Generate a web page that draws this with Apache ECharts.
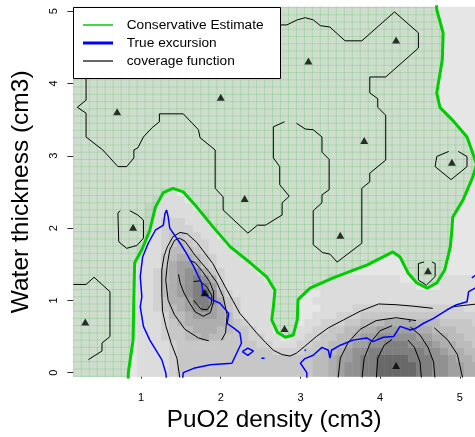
<!DOCTYPE html>
<html>
<head>
<meta charset="utf-8">
<script src="https://cdn.jsdelivr.net/npm/echarts@6/dist/echarts.min.js"></script>
<style>
  html, body { margin: 0; padding: 0; background: #fff; }
  #chart { width: 475px; height: 437px; }
</style>
</head>
<body>
<div id="chart"></div>
<script>
// ---- axes ----
const xTicks = [1, 2, 3, 4, 5];
const yTicks = [0, 1, 2, 3, 4, 5];
const xRange = [0.15, 5.19];
const yRange = [-0.06, 5.062];

// ---- coverage function on a 0.1 grid ----
// row r sits at y = r * 0.1, column i at x = 1.0 + i * 0.1
// '0'..'9' -> 0.0..0.9, 'a' -> 1.0 ; cells past the end of a row hold 1.0
const covX0 = 1.0;
const covY0 = 0.0;
const covStep = 0.1;
const covRows = [
  '9999877777' + '7777777777' + '7766543322' + '1111122334' + '455',
  '9999877777' + '7777777777' + '7766543322' + '1111122334' + '455',
  '9999877777' + '7777777777' + '7766544322' + '1111222334' + '556',
  '9999877777' + '7777777888' + '8776654332' + '2222223345' + '566',
  '9999877777' + '7777788999' + '8877665443' + '3222333455' + '667',
  '9998776656' + '67778899a9' + '9887766544' + '3333344556' + '677',
  '9998776555' + '6677899aaa' + '9988776655' + '4444455666' + '777',
  '9998765555' + '5678999aaa' + 'a998887766' + '6555566677' + '778',
  '9998665444' + '5689999aaa' + 'aa99988877' + '7777777788' + '888',
  '9987654324' + '5789999aaa' + 'aaa9999888' + '8888888888' + '899',
  '9987554223' + '5789999aaa' + 'aa99999999' + '9999999999' + '999',
  '9986543213' + '6899999aaa' + 'aaa9999999' + '9999999999' + '999',
  '9986543224' + '7999999aaa' + 'aa99999999' + '99999aaa99' + '999',
  '9986543235' + '899999aaaa' + 'aaaa999999' + '999aaaaa99' + '999',
  '9986543357' + '89999',
  '9997544578' + '9999',
  '9997655678' + '999',
  '9998666789' + '99',
  'a998767889' + '9',
  'a998778899',
  'a998888999',
  'a99888999a',
  'a99999999a',
  'a999999aaa',
  'aa9999aaaa',
  'aaa99aaaaa'
];

// ---- conservative estimate boundary ----
const greenLine = [[0.84,-0.2],[0.84,0],[0.90,0.45],[0.91,1.05],[0.92,1.52],[1.01,1.70],[1.11,1.97],[1.18,2.29],[1.28,2.49],[1.40,2.55],[1.53,2.50],[1.70,2.29],[1.90,2.02],[2.12,1.74],[2.37,1.52],[2.58,1.32],[2.68,1.14],[2.66,0.91],[2.64,0.73],[2.71,0.56],[2.81,0.49],[2.91,0.52],[2.96,0.73],[2.97,1.01],[3.12,1.17],[3.41,1.31],[3.84,1.49],[4.16,1.67],[4.25,1.60],[4.35,1.38],[4.46,1.24],[4.59,1.17],[4.71,1.24],[4.81,1.42],[4.88,1.74],[4.90,1.97],[4.91,2.15],[5.04,2.39],[5.16,2.70],[5.21,2.88],[5.18,2.98],[5.09,3.26],[4.91,3.49],[4.75,3.67],[4.71,3.87],[4.78,4.33],[4.79,4.70],[4.71,5.02],[4.70,5.2]];
const greenCorners = [[0.0, 5.2], [0.0, -0.2]];

// ---- true excursion boundary ----
const blueMain = [[1.32,-0.1],[1.31,0.0],[1.26,0.18],[1.11,0.45],[1.03,0.64],[0.99,0.91],[1.01,1.05],[0.99,1.33],[1.02,1.60],[1.09,1.79],[1.18,1.97],[1.28,2.04],[1.30,2.20],[1.32,2.25],[1.34,2.16],[1.36,2.0],[1.49,1.79],[1.57,1.65],[1.66,1.47],[1.72,1.33],[1.76,1.24],[1.78,1.10],[1.89,1.01],[1.99,0.96],[2.10,0.82],[2.08,0.68],[2.16,0.62],[2.24,0.55],[2.26,0.41],[2.14,0.13],[1.87,0.11],[1.66,0.06],[1.53,0.0],[1.52,-0.1]];
const blueLoopA = [[2.27,0.29],[2.34,0.34],[2.41,0.30],[2.34,0.24],[2.27,0.29]];
const blueLoopB = [[2.51,0.20],[2.53,0.22],[2.55,0.20],[2.53,0.18],[2.51,0.20]];
const blueRight = [[3.08,-0.1],[3.08,0.0],[3.0,0.13],[3.05,0.19],[3.16,0.24],[3.27,0.35],[3.35,0.31],[3.37,0.20],[3.39,0.31],[3.50,0.38],[3.66,0.45],[3.83,0.48],[3.91,0.43],[4.04,0.49],[4.17,0.50],[4.25,0.64],[4.38,0.59],[4.44,0.61],[4.54,0.68],[4.67,0.75],[4.84,0.87],[4.96,0.94],[5.09,0.98],[5.11,1.12],[5.19,1.17],[5.3,1.2]];
const blueBitA = [[5.15,1.31],[5.20,1.35]];
const blueDots = [[3.06,0.31],[4.37,0.71]];

// ---- coverage function contours ----
const level1A = [[0.31,4.4],[0.31,4.08],[0.31,3.77],[0.20,3.67],[0.31,3.59],[0.31,3.26],[0.52,3.08],[0.71,2.85],[0.82,2.85],[0.91,2.97],[0.91,3.08],[0.96,3.11],[1.03,3.26],[1.14,3.39],[1.23,3.47],[1.23,3.58],[1.53,3.58],[1.72,3.36],[1.74,3.25],[1.93,3.08],[1.93,2.55],[2.03,2.43],[2.03,2.25],[2.34,1.93],[2.46,2.04],[2.56,2.04],[2.77,2.18],[2.77,2.35],[2.86,2.44],[2.74,2.60],[2.74,2.85],[2.66,2.97],[2.66,3.40],[2.80,3.47]];
const level1B = [[2.95,3.45],[3.06,3.37],[3.16,3.36],[3.27,3.26],[3.27,3.05],[3.36,2.95],[3.36,2.53],[3.27,2.46],[3.27,2.35],[3.16,2.24],[3.16,1.77],[3.28,1.66],[3.37,1.64],[3.46,1.53],[3.77,1.79],[3.77,2.55],[3.87,2.64],[3.87,2.76],[4.07,2.94],[4.07,3.56],[3.97,3.67],[3.97,3.79],[3.87,3.87],[3.87,4.09],[4.07,4.09],[4.48,4.49],[4.48,4.70],[4.18,4.99],[3.77,4.59],[3.56,4.59],[3.37,4.78],[3.25,4.80],[3.16,4.88],[3.06,4.91],[2.96,4.88],[2.83,4.81],[2.60,4.81]];
const level1C = [[0.86,2.24],[0.96,2.18],[1.03,2.11],[1.03,1.86],[0.95,1.76],[0.82,1.72],[0.72,1.81],[0.71,2.21],[0.74,2.24]];
const level1D = [[0.15,1.22],[0.31,1.22],[0.41,1.32],[0.61,1.12],[0.61,0.50],[0.51,0.41],[0.51,0.30],[0.41,0.23],[0.34,0.18]];
const level1E = [[4.55,1.53],[4.48,1.51],[4.48,1.28],[4.58,1.21],[4.69,1.33],[4.69,1.51],[4.65,1.53]];
const level1F = [[4.86,3.06],[4.71,2.99],[4.69,2.85],[4.89,2.67],[5.09,2.85],[5.09,2.99],[4.98,3.06]];
const level2L = [[1.66,1.26],[1.74,1.27],[1.83,1.18],[1.89,1.06],[1.88,0.95],[1.83,0.87],[1.75,0.88],[1.69,0.96],[1.66,1.00]];
const level4L = [[1.62,1.55],[1.68,1.52],[1.77,1.40],[1.86,1.26],[1.91,1.12],[1.91,0.98],[1.87,0.83],[1.78,0.78],[1.68,0.84],[1.61,0.96],[1.54,1.10],[1.49,1.24],[1.47,1.36]];
const level6L = [[2.01,0.45],[2.06,0.55],[2.08,0.80],[2.03,1.05],[1.95,1.25],[1.85,1.40],[1.68,1.62],[1.55,1.82],[1.48,1.86],[1.42,1.83],[1.36,1.70],[1.33,1.50],[1.31,1.28],[1.34,1.00],[1.42,0.80],[1.55,0.60],[1.72,0.48],[1.85,0.44]];
const level8 = [[1.49,-0.1],[1.45,0.2],[1.38,0.4],[1.31,0.65],[1.27,0.85],[1.26,1.10],[1.26,1.42],[1.29,1.62],[1.33,1.74],[1.40,1.88],[1.49,1.94],[1.58,1.92],[1.70,1.80],[1.90,1.51],[2.05,1.20],[2.15,1.00],[2.24,0.82],[2.35,0.68],[2.45,0.55],[2.56,0.42],[2.66,0.31],[2.77,0.25],[2.87,0.23],[2.95,0.27],[3.05,0.36],[3.20,0.50],[3.35,0.62],[3.54,0.73],[3.75,0.85],[3.98,0.95],[4.20,0.94],[4.41,0.92],[4.66,0.89]];
const level8R = [[4.90,0.91],[5.05,0.93],[5.30,0.96]];
const level6R = [[3.47,-0.1],[3.50,0.2],[3.60,0.42],[3.75,0.60],[3.95,0.72],[4.20,0.76],[4.45,0.72]];
const level6R2 = [[4.68,0.62],[4.85,0.45],[4.97,0.25],[5.04,-0.1]];
const level4R = [[3.77,-0.1],[3.80,0.2],[3.88,0.42],[4.00,0.58],[4.15,0.65]];
const level4R2 = [[4.38,0.63],[4.50,0.52],[4.60,0.35],[4.67,0.15],[4.69,-0.1]];
const level2R = [[3.95,-0.1],[3.97,0.2],[4.05,0.38],[4.15,0.46]];
const level2R2 = [[4.35,0.45],[4.43,0.35],[4.50,0.15],[4.52,-0.1]];

// contour labels: x, y, text
const contourLabels = [
  [2.87, 3.46, '1'], [0.79, 2.25, '1'], [0.28, 0.13, '1'], [4.60, 1.56, '1'], [4.92, 3.07, '1'],
  [1.56, 1.43, '0.4'], [1.93, 0.43, '0.6'], [4.77, 0.89, '0.8'], [4.57, 0.67, '0.6'],
  [4.27, 0.66, '0.4'], [4.25, 0.48, '0.2']
];
const rotatedLabels = [[1.67, 1.12, '0.2']];

// ---- design points ----
const pointsX = [0.3, 0.7, 0.9, 1.8, 2.0, 2.3, 2.8, 3.1, 3.5, 3.8, 4.2, 4.2, 4.6, 4.9];
const pointsY = [0.7, 3.61, 2.01, 1.11, 3.81, 2.41, 0.61, 4.31, 1.9, 3.21, 0.1, 4.6, 1.41, 2.91];

// ---- legend entries ----
const legendNames = ['Conservative Estimate', 'True excursion', 'coverage function'];
const legendColors = ['#00cd00', '#0000ff', '#666666'];
const legendWidths = [1.5, 3, 2];

// --------------------------------------------------------------
const FONT = "'Liberation Sans', Arial, Helvetica, sans-serif";
const GREEN = '#00cd00';
const BLUE = '#0000ff';

// grey ramp: gamma 2.2 between grey 0.3 and grey 0.9
function greyOf(v) {
  const a = Math.pow(0.3, 2.2), b = Math.pow(0.9, 2.2);
  const g = Math.round(255 * Math.pow(a + v * (b - a), 1 / 2.2));
  return 'rgb(' + g + ',' + g + ',' + g + ')';
}

const cellData = [];
covRows.forEach(function (row, r) {
  for (let i = 0; i < row.length; i++) {
    const ch = row[i];
    const v = ch === 'a' ? 1 : Number(ch) / 10;
    cellData.push([+(covX0 + i * covStep).toFixed(2), +(covY0 + r * covStep).toFixed(2), v]);
  }
});

function lineSeries(pts, color, width, z) {
  return {
    type: 'line', data: pts, symbol: 'none', showSymbol: false, silent: true,
    lineStyle: { color: color, width: width }, z: z, clip: true, animation: false
  };
}

const series = [];

// coverage cells
series.push({
  type: 'custom', data: cellData, z: 1, silent: true, clip: true, animation: false,
  renderItem: function (params, api) {
    const x = api.value(0), y = api.value(1), v = api.value(2);
    const p0 = api.coord([x - covStep / 2, y + covStep / 2]);
    const p1 = api.coord([x + covStep / 2, y - covStep / 2]);
    return {
      type: 'rect',
      shape: { x: p0[0], y: p0[1], width: p1[0] - p0[0] + 0.5, height: p1[1] - p0[1] + 0.5 },
      style: { fill: greyOf(v) }
    };
  }
});

// conservative estimate region with its grid hatching
series.push({
  type: 'custom', data: [[0, 0]], z: 2, silent: true, clip: true, animation: false,
  renderItem: function (params, api) {
    const poly = greenLine.concat(greenCorners).map(function (p) { return api.coord(p); });
    const kids = [{ type: 'polygon', shape: { points: poly }, style: { fill: 'rgba(0,150,0,0.10)' } }];
    const hatch = 'rgba(0,180,0,0.16)';
    for (let k = 0; k <= 52; k++) {
      const x = 0.05 + k * 0.1;
      const a = api.coord([x, -0.2]), b = api.coord([x, 5.2]);
      kids.push({ type: 'line', shape: { x1: a[0], y1: a[1], x2: b[0], y2: b[1] }, style: { stroke: hatch, lineWidth: 1 } });
    }
    for (let k = 0; k <= 53; k++) {
      const y = -0.15 + k * 0.1;
      const a = api.coord([0, y]), b = api.coord([5.3, y]);
      kids.push({ type: 'line', shape: { x1: a[0], y1: a[1], x2: b[0], y2: b[1] }, style: { stroke: hatch, lineWidth: 1 } });
    }
    return { type: 'group', children: kids, clipPath: { type: 'polygon', shape: { points: poly } } };
  }
});

// coverage contours
[level1A, level1B, level1C, level1D, level1E, level1F, level2L, level4L, level6L, level8, level8R,
 level6R, level6R2, level4R, level4R2, level2R, level2R2].forEach(function (c) {
  series.push(lineSeries(c, '#000', 1, 3));
});

// conservative estimate boundary
series.push(lineSeries(greenLine, GREEN, 3, 4));

// true excursion
[blueMain, blueLoopA, blueLoopB, blueRight, blueBitA].forEach(function (c) {
  series.push(lineSeries(c, BLUE, 1.5, 5));
});
series.push({
  type: 'scatter', data: blueDots, symbol: 'circle', symbolSize: 2, silent: true, z: 5,
  itemStyle: { color: BLUE }, animation: false
});

// design points
series.push({
  type: 'scatter', data: pointsX.map(function (x, i) { return [x, pointsY[i]]; }),
  symbol: 'triangle', symbolSize: [8, 7], silent: true, z: 6,
  itemStyle: { color: '#000' }, animation: false
});

// contour labels
series.push({
  type: 'scatter', silent: true, z: 7, animation: false,
  symbol: 'circle', symbolSize: 1, itemStyle: { opacity: 0 },
  data: contourLabels.map(function (d) { return { value: d }; })
    .concat(rotatedLabels.map(function (d) { return { value: d, label: { rotate: -75 } }; })),
  label: {
    show: true, position: 'inside', fontSize: 9, fontFamily: FONT, color: '#000',
    formatter: function (p) { return p.value[2]; }
  }
});

const option = {
  animation: false,
  backgroundColor: '#fff',
  grid: { left: 73.3, right: 0, top: 6.7, bottom: 60, show: true, backgroundColor: greyOf(1), borderWidth: 0 },
  xAxis: {
    type: 'value', min: xRange[0], max: xRange[1],
    name: 'PuO2 density (cm3)', nameLocation: 'middle', nameGap: 29,
    nameTextStyle: { fontSize: 24.3, fontFamily: FONT, color: '#000' },
    axisLine: { show: false },
    axisTick: { show: true, length: 6, customValues: xTicks, lineStyle: { color: '#333' } },
    axisLabel: { customValues: xTicks, fontSize: 11, fontFamily: FONT, color: '#000', margin: 15 },
    splitLine: { show: false }
  },
  yAxis: {
    type: 'value', min: yRange[0], max: yRange[1],
    name: 'Water thickness (cm3)', nameLocation: 'middle', nameGap: 40,
    nameTextStyle: { fontSize: 24.5, fontFamily: FONT, color: '#000' },
    axisLine: { show: false },
    axisTick: { show: true, length: 6, customValues: yTicks, lineStyle: { color: '#333' } },
    axisLabel: { customValues: yTicks, fontSize: 11, fontFamily: FONT, color: '#000', margin: 14, rotate: 90 },
    splitLine: { show: false }
  },
  series: series,
  graphic: [
    { type: 'rect', z: 100, shape: { x: 73.5, y: 7.5, width: 207, height: 71 },
      style: { fill: '#fff', stroke: '#000', lineWidth: 1 } }
  ].concat(legendNames.map(function (name, i) {
    const y = 25 + i * 18;
    return { type: 'group', z: 101, children: [
      { type: 'line', shape: { x1: 83, y1: y, x2: 113, y2: y }, style: { stroke: legendColors[i], lineWidth: legendWidths[i] }, z: 101 },
      { type: 'text', x: 126.7, y: y, z: 101, style: { text: name, fill: '#000', fontSize: 13.7, fontFamily: FONT, align: 'left', verticalAlign: 'middle' } }
    ] };
  }))
};

const chart = echarts.init(document.getElementById('chart'), null, { renderer: 'canvas' });
chart.setOption(option);
</script>
</body>
</html>
